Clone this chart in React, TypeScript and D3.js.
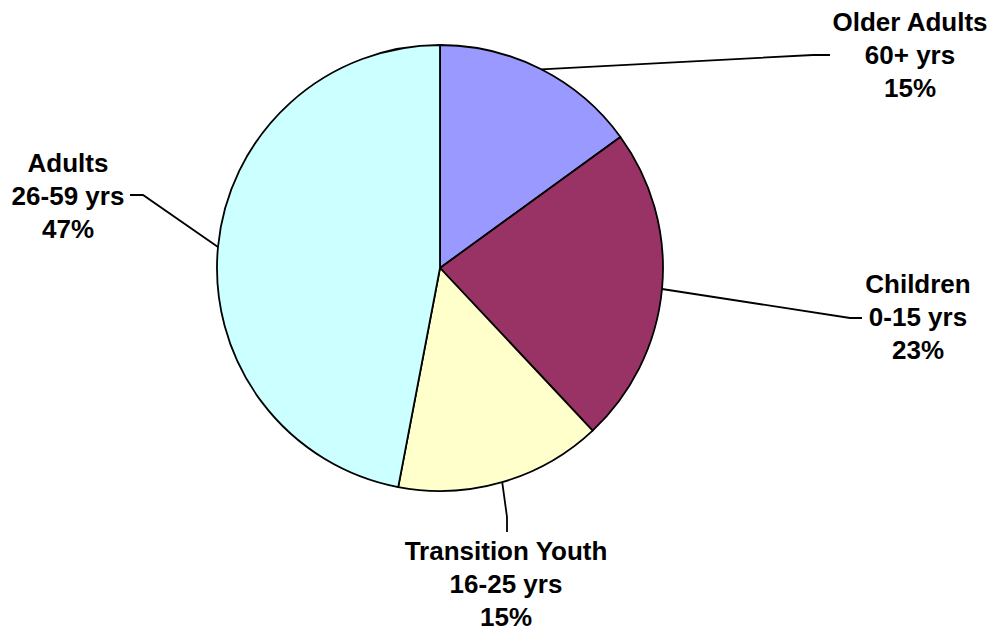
import React from 'react'
import * as d3 from 'd3'

const categories = ['Older Adults', 'Children', 'Transition Youth', 'Adults']
const ranges = ['60+ yrs', '0-15 yrs', '16-25 yrs', '26-59 yrs']
const shares = [15, 23, 15, 47]
const colors = ['#9999FF', '#993366', '#FFFFCC', '#CCFFFF']

// label layout: text centre x, first baseline, leader elbow and leader end
const labelLayout = [
  { x: 910, y: 31, elbow: [813, 55], end: [830, 55] },
  { x: 918, y: 293, elbow: [850, 318], end: [862, 318] },
  { x: 506, y: 560, elbow: [507, 517], end: [507, 532] },
  { x: 68, y: 172, elbow: [143, 195], end: [130, 195] },
]

export default function App() {
  const width = 994, height = 634
  const cx = 440, cy = 268, r = 223
  const pie = d3.pie<number>().sort(null).value(d => d)
  const arcs = pie(shares)
  const arc = d3.arc<d3.PieArcDatum<number>>().innerRadius(0).outerRadius(r)
  const edge = d3.arc<d3.PieArcDatum<number>>().innerRadius(r).outerRadius(r)
  const lineH = 33

  return (
    <svg width={width} height={height} style={{ position: 'absolute', left: 0, top: 0, background: '#fff' }}
      fontFamily="Liberation Sans, Arial, sans-serif">
      <rect width={width} height={height} fill="#fff" />
      <g transform={`translate(${cx},${cy})`}>
        {arcs.map((a, i) => (
          <path key={i} d={arc(a) || ''} fill={colors[i]} stroke="#000" strokeWidth={1.8} strokeLinejoin="round" />
        ))}
      </g>
      {arcs.map((a, i) => {
        const [px, py] = edge.centroid(a)
        const L = labelLayout[i]
        const pts: [number, number][] = [[cx + px, cy + py], L.elbow as [number, number], L.end as [number, number]]
        return <path key={i} d={d3.line()(pts) || ''} fill="none" stroke="#000" strokeWidth={1.8} />
      })}
      {categories.map((c, i) => {
        const L = labelLayout[i]
        const lines = [c, ranges[i], `${shares[i]}%`]
        return (
          <text key={i} textAnchor="middle" fontSize={26} fontWeight="bold" fill="#000">
            {lines.map((t, j) => (
              <tspan key={j} x={L.x} y={L.y + j * lineH}>{t}</tspan>
            ))}
          </text>
        )
      })}
    </svg>
  )
}
